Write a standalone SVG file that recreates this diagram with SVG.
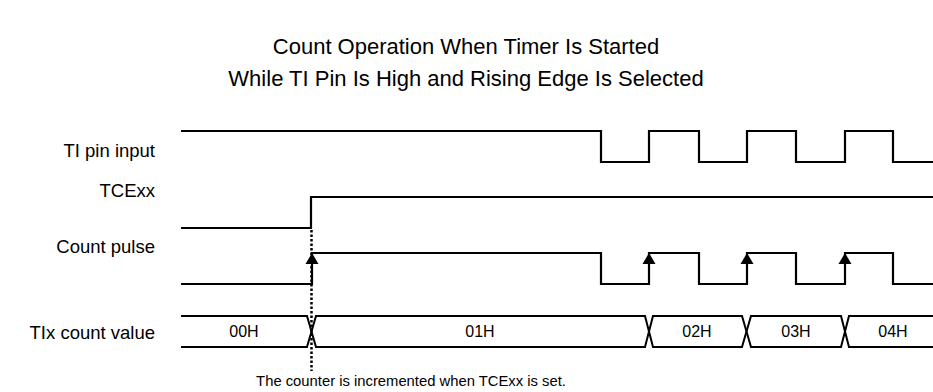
<svg xmlns="http://www.w3.org/2000/svg" width="933" height="392" viewBox="0 0 933 392">
<defs>
<style>
.t{font-family:"Liberation Sans",Arial,sans-serif;fill:#000}
.title{font-size:22px;text-anchor:middle}
.lbl{font-size:18.5px;text-anchor:end}
.val{font-size:16px;text-anchor:middle}
.note{font-size:14.8px;text-anchor:middle}
.w{fill:none;stroke:#000;stroke-width:2.2;stroke-linejoin:miter}
.bus{fill:none;stroke:#000;stroke-width:2}
.dot{fill:none;stroke:#000;stroke-width:2.5;stroke-dasharray:2.5,2}
</style>
<path id="ar" d="M0,0 L-6.5,11 L6.5,11 Z" fill="#000"/>
</defs>
<rect width="933" height="392" fill="#fff"/>
<g id="title">
<text class="t title" x="466" y="54">Count Operation When Timer Is Started</text>
<text class="t title" x="466" y="86">While TI Pin Is High and Rising Edge Is Selected</text>
</g>
<g id="labels">
<text class="t lbl" x="155" y="157">TI pin input</text>
<text class="t lbl" x="155" y="197">TCExx</text>
<text class="t lbl" x="155" y="253">Count pulse</text>
<text class="t lbl" x="155" y="339">TIx count value</text>
</g>
<g id="connectors">
<path id="ti" class="w" d="M181,131 H601 V162 H649 V131 H699 V162 H747 V131 H796 V162 H845 V131 H893 V162 H933"/>
<path id="tce" class="w" d="M181,228 H311 V197 H933"/>
<path id="pulse" class="w" d="M181,284 H312 V253 H601 V284 H649 V253 H699 V284 H747 V253 H796 V284 H845 V253 H893 V284 H933"/>
<path id="dotline" class="dot" d="M311.5,230 V371"/>
<use href="#ar" x="312" y="253"/>
<use href="#ar" x="649" y="253"/>
<use href="#ar" x="747" y="253"/>
<use href="#ar" x="845" y="253"/>
<g id="bus" class="bus">
<path d="M181,316 H307 L316,347 H645 L653,316 H742 L751,347 H841 L849,316 H933"/>
<path d="M181,347 H307 L316,316 H645 L653,347 H742 L751,316 H841 L849,347 H933"/>
</g>
</g>
<g id="values">
<text class="t val" x="244" y="337">00H</text>
<text class="t val" x="480" y="337">01H</text>
<text class="t val" x="697" y="337">02H</text>
<text class="t val" x="796" y="337">03H</text>
<text class="t val" x="893" y="337">04H</text>
</g>
<g id="note">
<text class="t note" x="411" y="386">The counter is incremented when TCExx is set.</text>
</g>
</svg>
